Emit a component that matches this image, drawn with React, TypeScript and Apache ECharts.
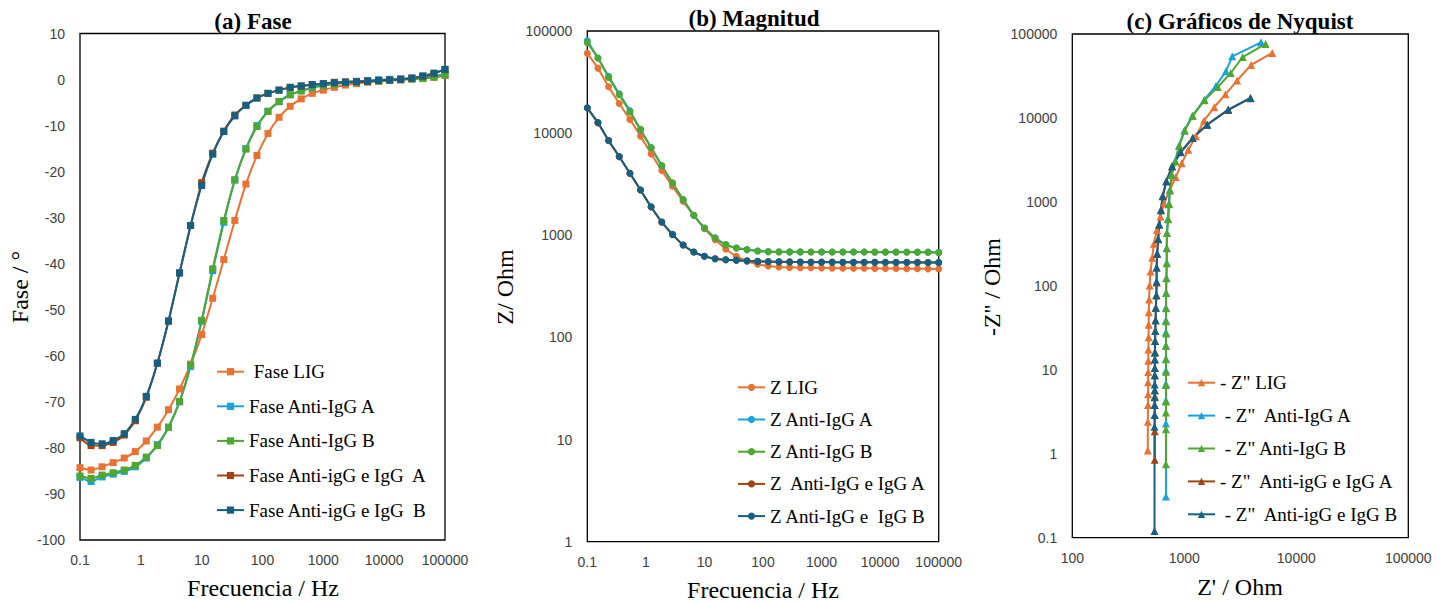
import React, { useEffect, useRef } from "react";
import * as echarts from "echarts";

// ---------- Data ----------
const freq = [0.1, 0.152, 0.231, 0.351, 0.534, 0.811, 1.23, 1.87, 2.85, 4.33, 6.58, 10, 15.2, 23.1, 35.1, 53.4, 81.1, 123, 187, 285, 433, 658, 1000, 1520, 2310, 3510, 5340, 8110, 12300, 18700, 28500, 43300, 65800, 100000];

const phaseLIG = [-84.3, -84.8, -84.1, -83.2, -82.2, -80.8, -78.5, -75.5, -71.7, -67.2, -61.8, -55.4, -47.5, -39.1, -30.6, -22.7, -16.5, -11.7, -8.2, -5.8, -4.2, -3.0, -2.3, -1.7, -1.2, -0.9, -0.6, -0.4, -0.2, -0.1, 0.1, 0.3, 0.5, 0.9];
const phaseA = [-86.4, -87.3, -86.3, -85.7, -85.1, -84.1, -82.2, -79.3, -75.5, -70.0, -62.3, -52.5, -41.5, -31.0, -21.8, -15.0, -10.0, -6.9, -4.8, -3.3, -2.4, -1.8, -1.3, -0.9, -0.6, -0.4, -0.2, -0.03, 0.05, 0.15, 0.3, 0.5, 0.8, 1.1];
const phaseB = [-86.1, -86.6, -85.9, -85.4, -84.8, -83.8, -82.0, -79.5, -75.5, -69.9, -62.0, -52.3, -41.1, -30.6, -21.8, -15.1, -10.2, -6.9, -4.8, -3.3, -2.5, -1.7, -1.3, -1.0, -0.7, -0.6, -0.4, -0.3, -0.1, 0.0, 0.1, 0.2, 0.5, 1.0];
const phaseEA = [-77.8, -79.5, -79.5, -78.8, -77.2, -74.1, -69.0, -61.6, -52.5, -42.0, -31.7, -22.4, -16.0, -11.2, -7.7, -5.6, -4.0, -3.0, -2.3, -1.7, -1.4, -1.1, -0.9, -0.6, -0.5, -0.4, -0.3, -0.2, -0.1, 0.1, 0.3, 0.7, 1.3, 2.2];
const phaseEB = [-77.4, -78.8, -79.1, -78.4, -76.9, -73.8, -68.8, -61.6, -52.4, -42.0, -31.7, -23.0, -16.2, -11.3, -7.9, -5.6, -4.0, -3.0, -2.3, -1.7, -1.4, -1.1, -0.9, -0.7, -0.6, -0.5, -0.4, -0.2, -0.1, 0.0, 0.3, 0.8, 1.4, 2.2];

const magLIG = [60400, 43300, 28400, 19500, 13600, 9350, 6270, 4300, 3020, 2150, 1570, 1160, 907, 735, 622, 560, 520, 500, 490, 485, 482, 480, 478, 477, 476, 475, 475, 474, 473, 472, 471, 470, 469, 468];
const magA = [80000, 54300, 36000, 24300, 16600, 10700, 7180, 4760, 3220, 2230, 1570, 1180, 945, 812, 752, 724, 703, 692, 689, 688, 688, 687, 687, 687, 686, 686, 686, 686, 685, 685, 685, 684, 684, 683];
const magB = [76900, 54400, 35100, 23800, 16100, 10900, 7230, 4820, 3260, 2240, 1570, 1180, 942, 810, 751, 723, 702, 690, 687, 687, 687, 686, 686, 686, 685, 685, 685, 684, 684, 684, 683, 683, 682, 676];
const magEA = [17600, 12600, 8450, 5880, 4040, 2770, 1890, 1345, 1015, 802, 686, 622, 590, 577, 569, 562, 557, 553, 551, 549, 548, 547, 546, 546, 545, 545, 544, 544, 544, 543, 543, 543, 542, 542];
const magEB = [17700, 12700, 8480, 5900, 4050, 2780, 1900, 1350, 1020, 804, 687, 623, 590, 577, 569, 560, 555, 551, 549, 547, 546, 545, 545, 544, 544, 543, 543, 543, 542, 542, 542, 541, 541, 540];

const zreLIG = [6100, 3950, 2960, 2330, 1850, 1500, 1270, 1085, 948, 838, 742, 659, 613, 570, 535, 517, 499, 490, 485, 482, 481, 480, 478, 477, 476, 475, 475, 474, 473, 472];
const zimLIG = [59500, 42800, 27900, 19100, 13400, 9280, 6070, 4170, 2880, 1975, 1384, 955, 669, 464, 317, 216, 148, 101, 69, 48.5, 34.5, 24.5, 17.5, 12.8, 9.4, 7.1, 5.1, 3.8, 2.4, 1.09];
const zreA = [4840, 2680, 2350, 1920, 1510, 1180, 1000, 896, 830, 772, 742, 725, 712, 700, 697, 697, 692, 688, 686, 686, 686, 686, 686, 686, 686, 686, 686, 686];
const zimA = [79600, 54200, 35900, 24200, 16500, 10600, 7100, 4660, 3100, 2120, 1390, 940, 625, 425, 282, 188, 124, 83, 55, 39, 28, 19.5, 13.5, 9.8, 6.8, 4.3, 2.3, 0.31];
const zreB = [5320, 3320, 2600, 1990, 1510, 1190, 1010, 902, 837, 771, 745, 735, 720, 700, 697, 697, 692, 688, 687, 687, 687, 686, 686, 686, 686, 686, 686, 686, 686];
const zimB = [76100, 53200, 34300, 23300, 16200, 10600, 7100, 4660, 3030, 2100, 1365, 946, 620, 425, 281, 186, 123, 82, 54, 38, 27, 19.3, 13.4, 9.5, 6.6, 4.2, 3.1, 1.96, 0.75];
const zreEA = [3880, 2460, 1600, 1185, 925, 778, 690, 642, 620, 596, 584, 573, 566, 566, 563, 557, 554, 551, 549, 548, 547, 547, 546, 546, 546, 545, 545, 545, 545];
const zimEA = [17200, 12400, 8300, 5760, 3940, 2660, 1765, 1185, 805, 537, 360, 240, 165, 110, 77, 55, 39, 29, 22, 16.3, 13.4, 10.5, 8.6, 5.7, 4.8, 3.8, 2.9, 1.85, 0.85];
const zreEB = [3910, 2470, 1600, 1190, 930, 780, 693, 641, 617, 597, 585, 573, 566, 566, 563, 557, 554, 550, 548, 546, 545, 545, 545, 544, 544, 543, 543, 543, 542, 542];
const zimEB = [17300, 12600, 8320, 5770, 3900, 2650, 1760, 1170, 795, 538, 361, 243, 165, 113, 78, 55, 39, 29, 22, 16, 13.3, 10.5, 8.6, 6.7, 5.7, 4.7, 3.8, 2.9, 2.1, 0.12];

const phaseNames = [" Fase LIG", "Fase Anti-IgG A", "Fase Anti-IgG B", "Fase Anti-igG e IgG  A", "Fase Anti-igG e IgG  B"];
const magNames = ["Z LIG", "Z Anti-IgG A", "Z Anti-IgG B", "Z  Anti-IgG e IgG A", "Z Anti-IgG e  IgG B"];
const nyqNames = ["- Z\" LIG", " - Z\"  Anti-IgG A", " - Z\" Anti-IgG B", "- Z\"  Anti-igG e IgG A", " - Z\"  Anti-igG e IgG B"];

const colors = ["#E97132", "#1AA2DC", "#4EA72E", "#9E4513", "#156082"];

const xTicksFreq = [0.1, 1, 10, 100, 1000, 10000, 100000];

// ---------- Styles ----------
const SERIF = "Liberation Serif";
const SANS = "Liberation Sans";

const zip = (xs: number[], ys: number[]) => ys.map((y, i) => [xs[i], y]);
const fmt = (v: number) => String(parseFloat(Number(v).toPrecision(6)));

export default function App() {
  const ref = useRef<HTMLDivElement>(null);

  useEffect(() => {
    if (!ref.current) return;
    const chart = echarts.init(ref.current, undefined, { renderer: "svg" });

    const grids = [
      { left: 80, top: 33.5, width: 365, height: 506.5 },
      { left: 587.3, top: 31, width: 351.4, height: 510.7 },
      { left: 1072.3, top: 34, width: 336, height: 503.7 },
    ].map((g) => ({ ...g, show: true, borderColor: "#000", borderWidth: 1.3, backgroundColor: "transparent" }));

    const axisCommon = {
      axisLine: { show: false },
      axisTick: { show: false },
      splitLine: { show: false },
    };
    const xLabel = { margin: 13, fontFamily: SANS, fontSize: 14, color: "#404040", formatter: fmt };
    const yLabel = { margin: 15, fontFamily: SANS, fontSize: 14, color: "#404040", formatter: fmt };

    const xAxis = [
      { gridIndex: 0, type: "log", logBase: 10, min: xTicksFreq[0], max: xTicksFreq[xTicksFreq.length - 1], splitNumber: 6, ...axisCommon, axisLabel: xLabel },
      { gridIndex: 1, type: "log", logBase: 10, min: xTicksFreq[0], max: xTicksFreq[xTicksFreq.length - 1], splitNumber: 6, ...axisCommon, axisLabel: xLabel },
      { gridIndex: 2, type: "log", logBase: 10, min: 100, max: 100000, splitNumber: 6, ...axisCommon, axisLabel: xLabel },
    ];
    const yAxis = [
      { gridIndex: 0, type: "value", min: -100, max: 10, interval: 10, ...axisCommon, axisLabel: yLabel },
      { gridIndex: 1, type: "log", logBase: 10, min: 1, max: 100000, splitNumber: 6, ...axisCommon, axisLabel: yLabel },
      { gridIndex: 2, type: "log", logBase: 10, min: 0.1, max: 100000, splitNumber: 6, ...axisCommon, axisLabel: yLabel },
    ];

    const mk = (name: string, idx: number, data: number[][], color: string, symbol: string, size: number) => ({
      type: "line",
      name,
      xAxisIndex: idx,
      yAxisIndex: idx,
      data,
      symbol,
      symbolSize: size,
      showSymbol: true,
      smooth: 0.2,
      lineStyle: { color, width: 2 },
      itemStyle: { color },
      emphasis: { disabled: true },
    });

    const phases = [phaseLIG, phaseA, phaseB, phaseEA, phaseEB];
    const mags = [magLIG, magA, magB, magEA, magEB];
    const zres = [zreLIG, zreA, zreB, zreEA, zreEB];
    const zims = [zimLIG, zimA, zimB, zimEA, zimEB];

    const series: any[] = [];
    phases.forEach((p, i) => series.push(mk(phaseNames[i], 0, zip(freq, p), colors[i], "rect", 7)));
    mags.forEach((m, i) => series.push(mk(magNames[i], 1, zip(freq, m), colors[i], "circle", 7)));
    zres.forEach((zr, i) => series.push({ ...mk(nyqNames[i], 2, zip(zr, zims[i]), colors[i], "triangle", 8), smooth: false }));

    const legendCommon = {
      orient: "vertical",
      itemWidth: 27,
      itemHeight: 9,
      padding: 0,
      selectedMode: false,
      textStyle: { fontFamily: SERIF, fontSize: 19, color: "#000", lineHeight: 20 },
    };

    const txt = (text: string, x: number, y: number, size: number, weight: string, rot = 0) => ({
      type: "text",
      x,
      y,
      rotation: rot,
      style: {
        text,
        fontFamily: SERIF,
        fontSize: size,
        fontWeight: weight,
        fill: "#000",
        align: "center",
        verticalAlign: "middle",
      },
    });

    chart.setOption({
      animation: false,
      backgroundColor: "#fff",
      grid: grids,
      xAxis,
      yAxis,
      series,
      legend: [
        { ...legendCommon, data: phaseNames, left: 216, top: 361.7, itemGap: 14.6 },
        { ...legendCommon, data: magNames, left: 737, top: 377.3, itemGap: 12.2 },
        { ...legendCommon, data: nyqNames, left: 1187, top: 372.7, itemGap: 12.9 },
      ],
      graphic: [
        txt("(a) Fase", 253, 21, 23, "bold"),
        txt("(b) Magnitud", 754, 18, 23, "bold"),
        txt("(c) Gráficos de Nyquist", 1240, 21, 23, "bold"),
        txt("Frecuencia / Hz", 263, 588, 24, "normal"),
        txt("Frecuencia / Hz", 763, 590, 24, "normal"),
        txt("Z' / Ohm", 1240, 587, 24, "normal"),
        txt("Fase / °", 20, 287, 24, "normal", Math.PI / 2),
        txt("Z/ Ohm", 505, 287, 24, "normal", Math.PI / 2),
        txt("-Z'' / Ohm", 992, 287, 24, "normal", Math.PI / 2),
      ],
    });

    return () => chart.dispose();
  }, []);

  return <div ref={ref} style={{ position: "fixed", left: 0, top: 0, width: 1448, height: 603 }} />;
}
